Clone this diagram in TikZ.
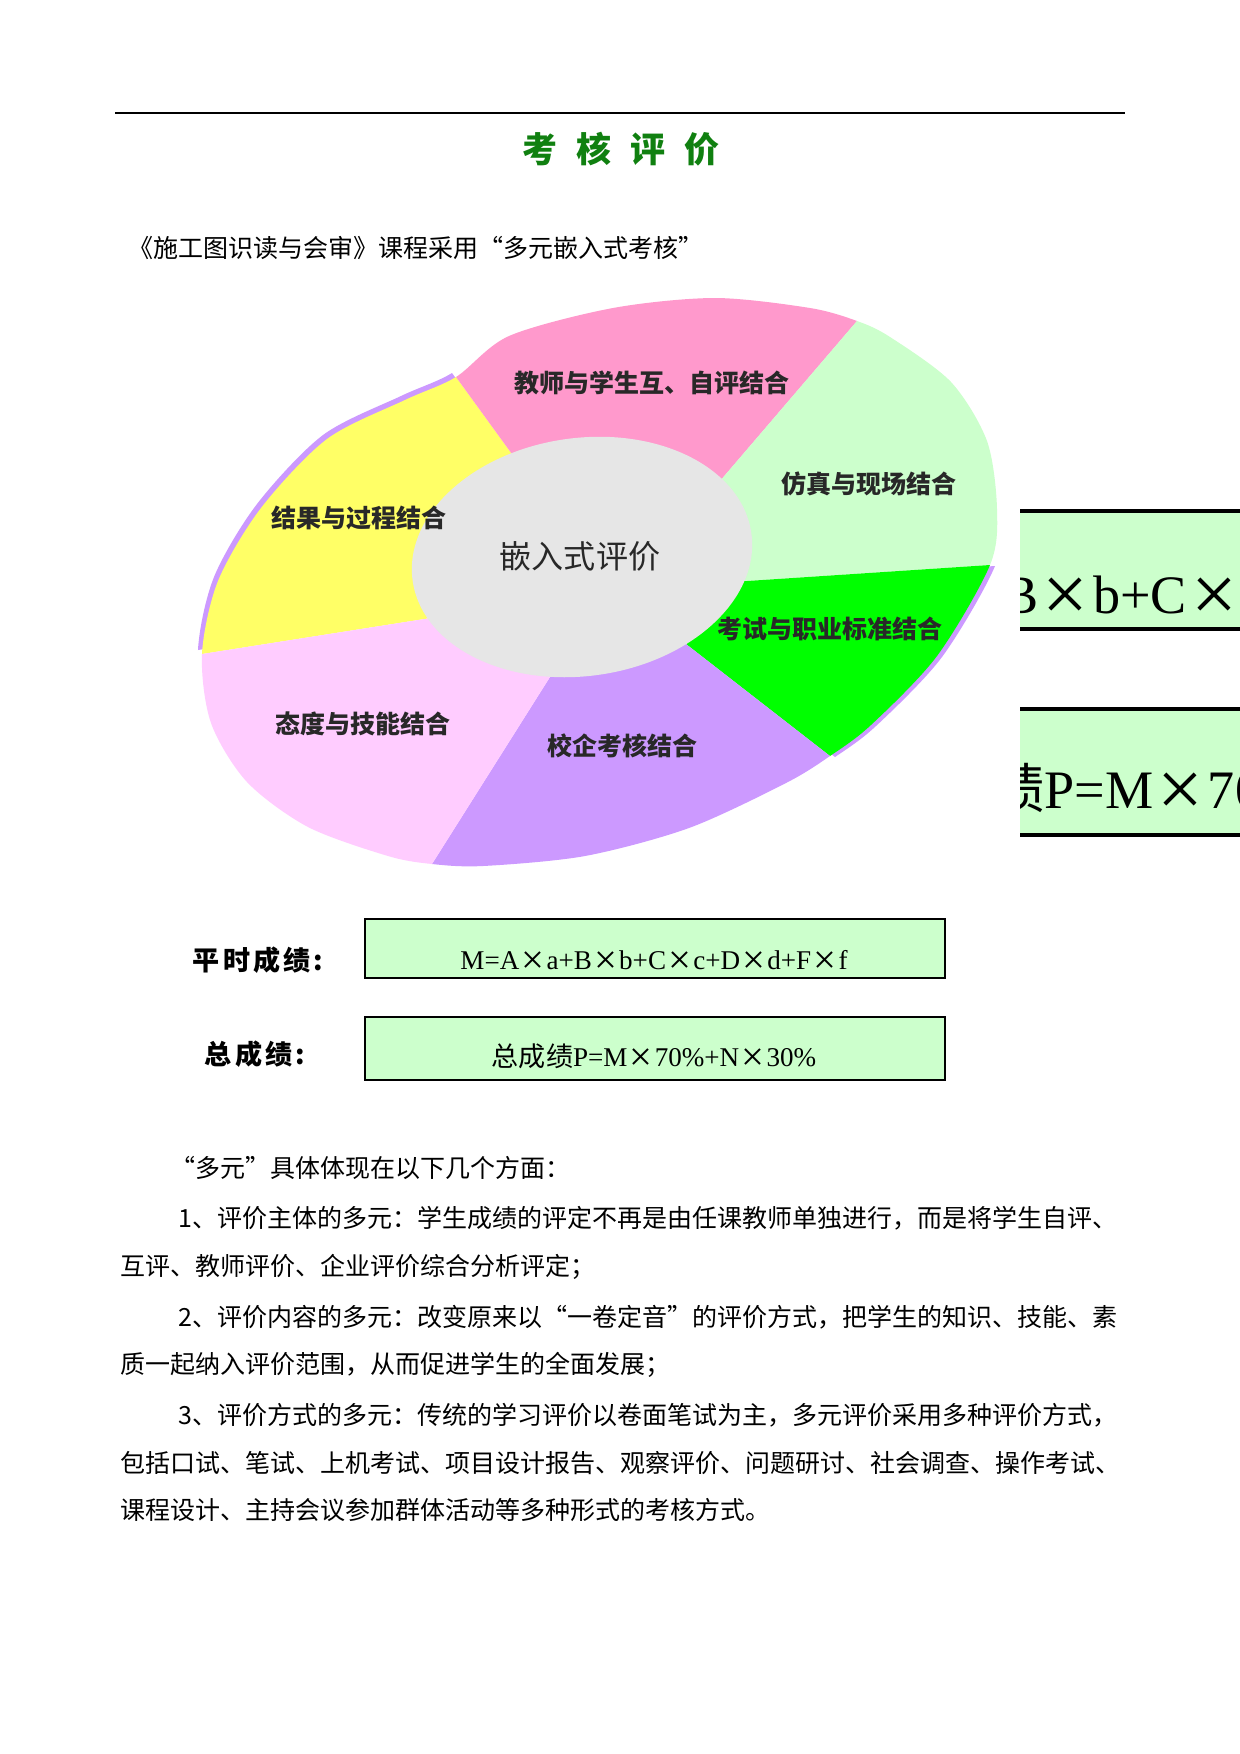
\documentclass[tikz,border=0pt]{standalone}
\usepackage{graphicx}
\usepackage{fontspec}
\setmainfont{Liberation Serif}
\newfontfamily\cjk{Noto Sans CJK SC}
\usetikzlibrary{calc}
\definecolor{secpink}{HTML}{FF99CC}
\definecolor{seclgreen}{HTML}{CCFFCC}
\definecolor{secgreen}{HTML}{00FF00}
\definecolor{secpurple}{HTML}{CC99FF}
\definecolor{seclpink}{HTML}{FFCCFF}
\definecolor{secyellow}{HTML}{FFFF66}
\definecolor{innergray}{HTML}{E6E6E6}
\definecolor{boxgreen}{HTML}{CCFFCC}
\definecolor{titlegreen}{RGB}{16,128,16}
\definecolor{labelgray}{RGB}{40,40,40}
\newcommand\mtimes{\kern0.08em\raisebox{-0.16em}{\scalebox{1.5}{×}}\kern0.08em}
\newcommand\outercurve{plot[smooth cycle] coordinates {(o1) (509,336) (613,308) (715,298) (810,308) (o2) (890,337) (951,382) (987,441) (997,509) (o3) (937,656) (871,725) (o4) (786,783) (689,828) (585,856) (483,866) (o5) (388,856) (308,827) (247,782) (211,723) (o6) (218,581) (261,508) (327,439) (405,400)}}
\newcommand\sectorfill[6]{\begin{scope}\clip \outercurve; \fill[#1] (C) -- (#2) -- (#3) -- ($(C)!3!(#3)$) -- ($(C)!3!(#4)$) -- ($(C)!3!(#5)$) -- (#5) -- (#6) -- cycle;\end{scope}}
\begin{document}
\begin{tikzpicture}[x=0.48pt, y=-0.48pt,
  lab/.style={font=\cjk\bfseries\fontsize{12}{14}\selectfont, text=labelgray, inner sep=0pt},
  body/.style={anchor=west, inner sep=0pt, font=\cjk\fontsize{12}{14}\selectfont},
  rowlab/.style={inner sep=0pt, font=\cjk\bfseries\fontsize{13}{15}\selectfont},
  fbox/.style={draw=black, fill=boxgreen, line width=1pt, inner sep=0pt},
  ftext/.style={inner sep=0pt, anchor=base, font=\fontsize{13}{15}\selectfont},
  bigtext/.style={inner sep=0pt, anchor=base west, font=\fontsize{26}{30}\selectfont}]
\useasboundingbox (0,0) rectangle (1240,1754);
\fill[white] (0,0) rectangle (1240,1754);
% header
\coordinate (rl) at (115,113);
\coordinate (rr) at (1125,113);
\draw[line width=0.9pt] (rl) -- (rr);
\node[font=\cjk\bfseries\fontsize{16.8}{20}\selectfont, text=titlegreen, inner sep=0pt] (title) at (621,149) {考\hspace{9pt}核\hspace{9pt}评\hspace{9pt}价};
\node[body] (intro) at (128,248) {《施工图识读与会审》课程采用“多元嵌入式考核”};
% diagram geometry
\coordinate (C) at (582,557);
\coordinate (o1) at (456,377); \coordinate (i1) at (517,461);
\coordinate (o2) at (857,321); \coordinate (i2) at (732,467);
\coordinate (o3) at (990,565); \coordinate (i3) at (732,582);
\coordinate (o4) at (830,756); \coordinate (i4) at (677,637);
\coordinate (o5) at (432,864); \coordinate (i5) at (550,677);
\coordinate (o6) at (202,654); \coordinate (i6) at (418,620);
\foreach \k in {1,...,6} {\coordinate (e\k) at ($(o\k)!1.35!(i\k)$);}
\coordinate (lY) at (359,518);
\coordinate (lP) at (652,383);
\coordinate (lLG) at (869,484);
\coordinate (lG) at (830,629);
\coordinate (lPu) at (622,746);
\coordinate (lLP) at (363,724);
% purple rims
\begin{scope}[transform canvas={shift={(-4,-4)}}]
\sectorfill{secpurple}{e6}{o6}{lY}{o1}{e1}
\end{scope}
\begin{scope}[transform canvas={shift={(5,1)}}]
\sectorfill{secpurple}{e3}{o3}{lG}{o4}{e4}
\end{scope}
% sectors
\sectorfill{secyellow}{e6}{o6}{lY}{o1}{e1}
\sectorfill{secpink}{e1}{o1}{lP}{o2}{e2}
\sectorfill{seclgreen}{e2}{o2}{lLG}{o3}{e3}
\sectorfill{secgreen}{e3}{o3}{lG}{o4}{e4}
\sectorfill{secpurple}{e4}{o4}{lPu}{o5}{e5}
\sectorfill{seclpink}{e5}{o5}{lLP}{o6}{e6}
% inner ellipse
\fill[innergray, rotate around={8:(C)}] (C) ellipse [x radius=171, y radius=119];
% labels
\node[lab] (tY) at (lY) {结果与过程结合};
\node[lab] (tP) at (lP) {教师与学生互、自评结合};
\node[lab] (tLG) at (lLG) {仿真与现场结合};
\node[lab] (tG) at (lG) {考试与职业标准结合};
\node[lab] (tPu) at (lPu) {校企考核结合};
\node[lab] (tLP) at (lLP) {态度与技能结合};
\node[font=\cjk\fontsize{15.4}{18}\selectfont, text=labelgray, inner sep=0pt] (tC) at (580,556) {嵌入式评价};
% formula rows
\node[rowlab] (r1) at (258,960) {平\hspace{1.5pt}时\hspace{1.5pt}成\hspace{1.5pt}绩\hspace{1.5pt}:};
\node[rowlab] (r2) at (255,1054) {总\hspace{1.5pt}成\hspace{1.5pt}绩\hspace{1.5pt}:};
\node[fbox, minimum width=278.2pt, minimum height=28.3pt] (box1) at (654.75,948.5) {};
\node[ftext] (f1) at (654,969) {M=A\mtimes a+B\mtimes b+C\mtimes c+D\mtimes d+F\mtimes f};
\node[fbox, minimum width=278.2pt, minimum height=30.2pt] (box2) at (654.75,1048.5) {};
\node[ftext] (f2) at (654,1066) {{\cjk 总成绩}P=M\mtimes 70\%+N\mtimes 30\%};
% enlarged fragment at the right edge
\begin{scope}
\clip (1020,480) rectangle (1240,860);
\node[fbox, line width=2pt, minimum width=556.3pt, minimum height=56.6pt] (box1b) at (1197.5,570) {};
\node[bigtext] (f1b) at (1002,613) {B\mtimes b+C\mtimes c};
\node[fbox, line width=2pt, minimum width=556.3pt, minimum height=60.5pt] (box2b) at (1197.5,772) {};
\node[bigtext] (f2b) at (990,808) {{\cjk 绩}P=M\mtimes 70\%};
\end{scope}
% body text
\node[body] (p0) at (170,1168) {“多元”具体体现在以下几个方面：};
\node[body] (p1) at (178,1218) {1、评价主体的多元：学生成绩的评定不再是由任课教师单独进行，而是将学生自评、};
\node[body] (p2) at (120,1267) {互评、教师评价、企业评价综合分析评定；};
\node[body] (p3) at (178,1317) {2、评价内容的多元：改变原来以“一卷定音”的评价方式，把学生的知识、技能、素};
\node[body] (p4) at (120,1365) {质一起纳入评价范围，从而促进学生的全面发展；};
\node[body] (p5) at (178,1415) {3、评价方式的多元：传统的学习评价以卷面笔试为主，多元评价采用多种评价方式，};
\node[body] (p6) at (120,1463) {包括口试、笔试、上机考试、项目设计报告、观察评价、问题研讨、社会调查、操作考试、};
\node[body] (p7) at (120,1510) {课程设计、主持会议参加群体活动等多种形式的考核方式。};
\end{tikzpicture}
\end{document}
